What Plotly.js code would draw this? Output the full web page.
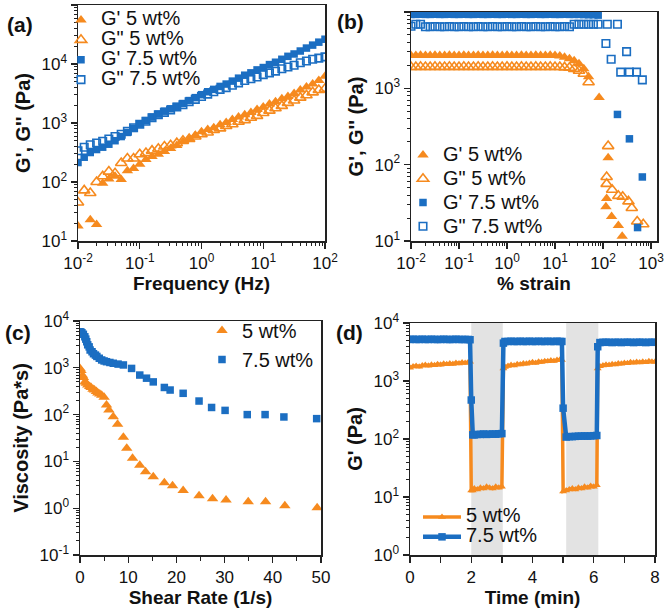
<!DOCTYPE html>
<html><head><meta charset="utf-8">
<script src="https://cdn.plot.ly/plotly-3.0.1.min.js"></script>
<style>html,body{margin:0;padding:0;background:#fff}#chart{width:666px;height:616px}</style>
</head><body><div id="chart"></div>
<script>
// ---------- Panel (a): frequency sweep ----------
const freqA = [0.01,0.0126,0.0158,0.02,0.0251,0.0316,0.0398,0.0501,0.0631,0.0794,0.1,0.126,0.158,0.2,0.251,0.316,0.398,0.501,0.631,0.794,1,1.26,1.58,2,2.51,3.16,3.98,5.01,6.31,7.94,10,12.6,15.8,20,25.1,31.6,39.8,50.1,63.1,79.4,100];
const gp5A = [18,null,23,19,95,112,125,110,155,170,200,240,270,295,330,370,415,480,525,615,710,775,830,935,1020,1150,1260,1380,1510,1700,1860,2090,2290,2570,2820,3160,3630,4070,4570,5250,6170];
const gpp5A = [45,72,65,100,125,150,140,210,250,250,295,310,340,365,400,420,455,500,535,590,645,690,760,810,890,955,1050,1120,1230,1320,1480,1620,1780,1950,2190,2400,2690,2950,3310,3630,3800];
const gp75A = [214,263,316,355,389,437,501,589,692,813,955,1096,1259,1413,1585,1738,1905,2138,2399,2692,3020,3388,3715,4169,4571,5129,5754,6457,7079,7943,8710,9772,10715,12023,13490,14791,16596,18621,20893,23442,26303];
const gpp75A = [339,389,427,457,490,537,589,646,724,832,955,1072,1230,1380,1514,1660,1862,2042,2291,2512,2818,3090,3388,3715,3981,4365,4786,5248,5623,6026,6607,7079,7586,8318,8913,9550,10471,11220,12023,12589,13183];

// ---------- Panel (b): strain sweep ----------
const strainB = [0.01,0.0126,0.0158,0.02,0.0251,0.0316,0.0398,0.0501,0.0631,0.0794,0.1,0.126,0.158,0.2,0.251,0.316,0.398,0.501,0.631,0.794,1,1.26,1.58,2,2.51,3.16,3.98,5.01,6.31,7.94,10,12.6,15.8,20,25.1,31.6,39.8,50.1];
const gp5B = [2700,2700,2720,2700,2700,2720,2700,2700,2720,2700,2700,2720,2700,2700,2720,2700,2700,2720,2700,2700,2720,2700,2700,2720,2700,2700,2720,2700,2700,2720,2700,2650,2550,2450,2300,2100,1800,1420];
const gp5BtailX = [83,128,119,115,151,209,251];
const gp5BtailY = [760,123,36,28,21,16,11.5];
const gpp5B = [1900,1900,1910,1900,1900,1910,1900,1900,1910,1900,1900,1910,1900,1900,1910,1900,1900,1910,1900,1900,1910,1900,1900,1910,1900,1900,1910,1900,1900,1910,1900,1900,1880,1860,1800,1700,1550,1200];
const gpp5BtailX = [128,119,119,155,209,257,339,398,515,690];
const gpp5BtailY = [175,69,56,47,39,38,33,27,18,16.6];
const gp75B = [9300,9300,9350,9300,9300,9350,9300,9300,9350,9300,9300,9350,9300,9300,9350,9300,9300,9350,9300,9300,9350,9300,9300,9350,9300,9300,9350,9300,9300,9350,9300,9300,9350,9300,9300,9300,9250,9200];
const gp75BtailX = [63.1,79.4,200,355,660,525];
const gp75BtailY = [9200,9100,455,218,69,15];
const gpp75B = [6500,6900,6900,6400,6400,6450,6400,6400,6450,6400,6400,6450,6400,6400,6450,6400,6400,6450,6400,6400,6450,6400,6400,6450,6400,6400,6450,6400,6400,6450,6400,6400,6450,6400,6900,6900,6900,6900];
const gpp75BtailX = [63.1,79,123,200,115,148,310,234,355,500,660];
const gpp75BtailY = [6900,6900,6900,6900,3870,2400,3030,1630,1630,1630,1290];

// ---------- Panel (c): viscosity ----------
const shear5 = [0,0.2,0.5,0.7,1.0,1.3,1.6,2.0,2.3,2.7,3.0,3.4,3.7,4.1,4.5,5.0,5.5,6.0,6.9,7.8,9.0,9.7,10.9,12.4,13.6,15.2,17.5,19.2,21.4,24.7,27.5,30.3,34.9,38.5,42.5,49.2];
const visc5 = [970,880,690,620,500,470,430,400,380,350,335,310,290,275,260,235,160,125,90,62,33,19,11.7,8.3,6.0,4.7,3.5,3.0,2.4,1.85,1.6,1.5,1.38,1.38,1.13,1.02];
const shear75 = [0,0.2,0.4,0.7,1.0,1.2,1.4,1.6,1.9,2.1,2.5,2.8,3.2,3.5,4.0,4.5,5.0,5.5,6.2,6.9,7.9,9.0,10.7,12.4,13.8,15.2,17.5,18.7,21.4,24.7,27.3,30.1,34.7,38.4,42.3,49.1];
const visc75 = [5900,5800,5600,5200,4600,4100,3600,3100,2800,2400,2200,2000,1870,1750,1600,1470,1400,1350,1300,1250,1200,1150,970,700,600,500,380,335,285,195,142,123,100,100,89,82];

// ---------- Panel (d): recovery ----------
const timeD = [0,0.1,0.2,0.3,0.4,0.5,0.6,0.7,0.8,0.9,1.0,1.1,1.2,1.3,1.4,1.5,1.6,1.7,1.8,1.9,1.96,2.0,2.05,2.1,2.2,2.3,2.4,2.5,2.6,2.7,2.8,2.9,3.0,3.05,3.1,3.2,3.3,3.4,3.5,3.6,3.7,3.8,3.9,4.0,4.1,4.2,4.3,4.4,4.5,4.6,4.7,4.8,4.9,4.96,5.0,5.1,5.2,5.3,5.4,5.5,5.6,5.7,5.8,5.9,6.0,6.1,6.13,6.2,6.3,6.4,6.5,6.6,6.7,6.8,6.9,7.0,7.1,7.2,7.3,7.4,7.5,7.6,7.7,7.8,7.9,8.0];
const gp75D = [5200,5250,5200,5200,5250,5200,5200,5250,5200,5200,5200,5250,5200,5200,5200,5250,5200,5200,5200,5200,5150,470,118,118,120,120,122,120,121,122,121,123,124,4500,4800,4800,4850,4800,4800,4850,4800,4800,4850,4800,4800,4850,4800,4800,4850,4800,4800,4850,4800,4800,340,108,110,110,111,112,112,113,112,113,114,115,3900,4600,4650,4650,4650,4600,4650,4650,4600,4650,4650,4650,4600,4650,4650,4650,4600,4650,4650,4650];
const gp5D = [1700,1780,1820,1760,1850,1880,1830,1900,1870,1950,1900,1980,1940,2000,1960,2050,2010,2080,2040,2100,2150,13,13,14,13.5,14.5,14,15,14.5,14,15,14.5,15,1650,1750,1820,1880,1850,1950,1920,2000,1980,2050,2100,2050,2150,2120,2200,2180,2250,2220,2300,2350,2300,12.5,13,13.5,14,13.5,14.5,14,15,14.5,15.5,15,16,1650,1800,1850,1900,1880,1950,1920,2000,1980,2050,2020,2100,2060,2120,2080,2150,2100,2180,2140,2150];
const shadeStart = [2.0, 5.1];
const shadeEnd = [3.03, 6.15];

// ---------- tick labels ----------
const ticksA_x = ['10<sup>-2</sup>','10<sup>-1</sup>','10<sup>0</sup>','10<sup>1</sup>','10<sup>2</sup>'];
const ticksA_y = ['10<sup>1</sup>','10<sup>2</sup>','10<sup>3</sup>','10<sup>4</sup>','10<sup>5</sup>'];
const ticksB_x = ['10<sup>-2</sup>','10<sup>-1</sup>','10<sup>0</sup>','10<sup>1</sup>','10<sup>2</sup>','10<sup>3</sup>'];
const ticksB_y = ['10<sup>1</sup>','10<sup>2</sup>','10<sup>3</sup>','10<sup>4</sup>'];
const ticksC_y = ['10<sup>-1</sup>','10<sup>0</sup>','10<sup>1</sup>','10<sup>2</sup>','10<sup>3</sup>','10<sup>4</sup>'];
const ticksD_y = ['10<sup>0</sup>','10<sup>1</sup>','10<sup>2</sup>','10<sup>3</sup>','10<sup>4</sup>'];

const ORANGE = '#F68A1E';
const BLUE = '#1B6EC2';
const FONT = 'Liberation Sans, Arial, Helvetica, sans-serif';
const W = 666, H = 616;
const px = v => v / W;
const py = v => (H - v) / H;
const big = (t, s) => '<span style="font-size:' + s + 'px">' + t + '</span>';

function tri(open, color) {
  return open ? {symbol: 'triangle-up-open', size: 10, color: color, line: {width: 1.6, color: color}}
              : {symbol: 'triangle-up', size: 10, color: color, line: {width: 0}};
}
function sq(open, color) {
  return open ? {symbol: 'square-open', size: 7.5, color: color, line: {width: 1.6, color: color}}
              : {symbol: 'square', size: 7.5, color: color, line: {width: 0}};
}

const traces = [
  // (a)
  {x: freqA, y: gp5A, mode: 'markers', name: big("G' 5 wt%", 20), marker: tri(false, ORANGE), xaxis: 'x', yaxis: 'y', legend: 'legend'},
  {x: freqA, y: gpp5A, mode: 'markers', name: big('G" 5 wt%', 20), marker: tri(true, ORANGE), xaxis: 'x', yaxis: 'y', legend: 'legend'},
  {x: freqA, y: gp75A, mode: 'markers', name: big("G' 7.5 wt%", 20), marker: sq(false, BLUE), xaxis: 'x', yaxis: 'y', legend: 'legend'},
  {x: freqA, y: gpp75A, mode: 'markers', name: big('G" 7.5 wt%', 20), marker: sq(true, BLUE), xaxis: 'x', yaxis: 'y', legend: 'legend'},
  // (b)
  {x: strainB.concat(gp5BtailX), y: gp5B.concat(gp5BtailY), mode: 'markers', name: big("G' 5 wt%", 20), marker: tri(false, ORANGE), xaxis: 'x2', yaxis: 'y2', legend: 'legend2'},
  {x: strainB.concat(gpp5BtailX), y: gpp5B.concat(gpp5BtailY), mode: 'markers', name: big('G" 5 wt%', 20), marker: tri(true, ORANGE), xaxis: 'x2', yaxis: 'y2', legend: 'legend2'},
  {x: strainB.concat(gp75BtailX), y: gp75B.concat(gp75BtailY), mode: 'markers', name: big("G' 7.5 wt%", 20), marker: sq(false, BLUE), xaxis: 'x2', yaxis: 'y2', legend: 'legend2'},
  {x: strainB.concat(gpp75BtailX), y: gpp75B.concat(gpp75BtailY), mode: 'markers', name: big('G" 7.5 wt%', 20), marker: sq(true, BLUE), xaxis: 'x2', yaxis: 'y2', legend: 'legend2'},
  // (c)
  {x: shear5, y: visc5, mode: 'markers', name: '5 wt%', marker: tri(false, ORANGE), xaxis: 'x3', yaxis: 'y3', legend: 'legend3'},
  {x: shear75, y: visc75, mode: 'markers', name: '7.5 wt%', marker: sq(false, BLUE), xaxis: 'x3', yaxis: 'y3', legend: 'legend3'},
  // (d)
  {x: timeD, y: gp5D, mode: 'lines+markers', name: big('5 wt%', 20), line: {color: ORANGE, width: 3.5}, marker: {symbol: 'triangle-up', size: 7, color: ORANGE}, xaxis: 'x4', yaxis: 'y4', legend: 'legend4'},
  {x: timeD, y: gp75D, mode: 'lines+markers', name: big('7.5 wt%', 20), line: {color: BLUE, width: 4.5}, marker: {symbol: 'square', size: 7.5, color: BLUE}, xaxis: 'x4', yaxis: 'y4', legend: 'legend4'}
];

const axisBase = {
  showline: true, linecolor: '#222', linewidth: 1.5, mirror: true,
  ticks: 'outside', ticklen: 6, tickwidth: 1.3, tickcolor: '#222',
  showgrid: false, zeroline: false, automargin: false,
  tickfont: {family: FONT, size: 17, color: '#111'}
};
const logMinor = {ticks: 'outside', ticklen: 3, tickwidth: 1, tickcolor: '#222', dtick: 'D1', showgrid: false};
const xTitle = t => ({text: t, font: {family: FONT, size: 19, color: '#111', weight: 'bold'}, standoff: 1});
const yTitle = t => ({text: t, font: {family: FONT, size: 20, color: '#111', weight: 'bold'}, standoff: 5});

const layout = {
  width: W, height: H,
  margin: {l: 0, r: 0, t: 0, b: 0},
  paper_bgcolor: '#fff', plot_bgcolor: '#fff',
  font: {family: FONT, color: '#111'},
  showlegend: true,
  xaxis: Object.assign({}, axisBase, {type: 'log', domain: [px(78), px(325)], range: [-2, 2], anchor: 'y',
    tickmode: 'array', tickvals: [0.01, 0.1, 1, 10, 100], ticktext: ticksA_x, minor: logMinor, title: xTitle('Frequency (Hz)')}),
  yaxis: Object.assign({}, axisBase, {type: 'log', domain: [py(241), py(5)], range: [1, 5], anchor: 'x',
    tickmode: 'array', tickvals: [10, 100, 1000, 1e4, 1e5], ticktext: ticksA_y, minor: logMinor, title: yTitle("G', G'' (Pa)")}),
  xaxis2: Object.assign({}, axisBase, {type: 'log', domain: [px(411), px(657)], range: [-2, 3.125], anchor: 'y2',
    tickmode: 'array', tickvals: [0.01, 0.1, 1, 10, 100, 1000], ticktext: ticksB_x, minor: logMinor, title: xTitle('% strain')}),
  yaxis2: Object.assign({}, axisBase, {type: 'log', domain: [py(241), py(12)], range: [1, 4], anchor: 'x2',
    tickmode: 'array', tickvals: [10, 100, 1000, 1e4], ticktext: ticksB_y, minor: logMinor, title: yTitle("G', G'' (Pa)")}),
  xaxis3: Object.assign({}, axisBase, {type: 'linear', domain: [px(80), px(321)], range: [0, 50], anchor: 'y3',
    tickmode: 'linear', tick0: 0, dtick: 10, minor: {ticks: 'outside', ticklen: 4, tickwidth: 1, tickcolor: '#222', dtick: 5}, title: xTitle('Shear Rate (1/s)')}),
  yaxis3: Object.assign({}, axisBase, {type: 'log', domain: [py(555), py(321)], range: [-1, 4], anchor: 'x3',
    tickmode: 'array', tickvals: [0.1, 1, 10, 100, 1000, 1e4], ticktext: ticksC_y, minor: logMinor, title: yTitle('Viscosity (Pa*s)')}),
  xaxis4: Object.assign({}, axisBase, {type: 'linear', domain: [px(410), px(655)], range: [0, 8], anchor: 'y4',
    tickmode: 'linear', tick0: 0, dtick: 2, minor: {ticks: 'outside', ticklen: 6, tickwidth: 1.3, tickcolor: '#222', dtick: 1}, title: xTitle('Time (min)')}),
  yaxis4: Object.assign({}, axisBase, {type: 'log', domain: [py(555), py(323)], range: [0, 4], anchor: 'x4',
    tickmode: 'array', tickvals: [1, 10, 100, 1000, 1e4], ticktext: ticksD_y, minor: logMinor, title: yTitle("G' (Pa)")}),
  legend: {x: px(61), y: py(5), xanchor: 'left', yanchor: 'top', bgcolor: 'rgba(0,0,0,0)', font: {family: FONT, size: 13, color: '#111'}, tracegroupgap: 0},
  legend2: {x: px(403), y: py(138), xanchor: 'left', yanchor: 'top', bgcolor: 'rgba(0,0,0,0)', font: {family: FONT, size: 16, color: '#111'}, tracegroupgap: 0},
  legend3: {x: px(202), y: py(311), xanchor: 'left', yanchor: 'top', bgcolor: 'rgba(0,0,0,0)', font: {family: FONT, size: 20, color: '#111'}, tracegroupgap: 0},
  legend4: {x: px(418), y: py(502), xanchor: 'left', yanchor: 'top', bgcolor: 'rgba(0,0,0,0)', font: {family: FONT, size: 13, color: '#111'}, tracegroupgap: 0, itemwidth: 38},
  shapes: shadeStart.map((s, i) => ({type: 'rect', xref: 'x4', yref: 'y4 domain', x0: s, x1: shadeEnd[i], y0: 0, y1: 1,
    fillcolor: '#E3E3E3', line: {width: 0}, layer: 'below'})),
  annotations: [
    {text: '(a)', x: px(20), y: py(24)},
    {text: '(b)', x: px(350), y: py(22)},
    {text: '(c)', x: px(18), y: py(332)},
    {text: '(d)', x: px(349), y: py(332)}
  ].map(a => Object.assign(a, {xref: 'paper', yref: 'paper', xanchor: 'center', yanchor: 'middle', showarrow: false,
    font: {family: FONT, size: 21, color: '#111', weight: 'bold'}}))
};

Plotly.newPlot('chart', traces, layout, {displayModeBar: false, staticPlot: true});
</script></body></html>
